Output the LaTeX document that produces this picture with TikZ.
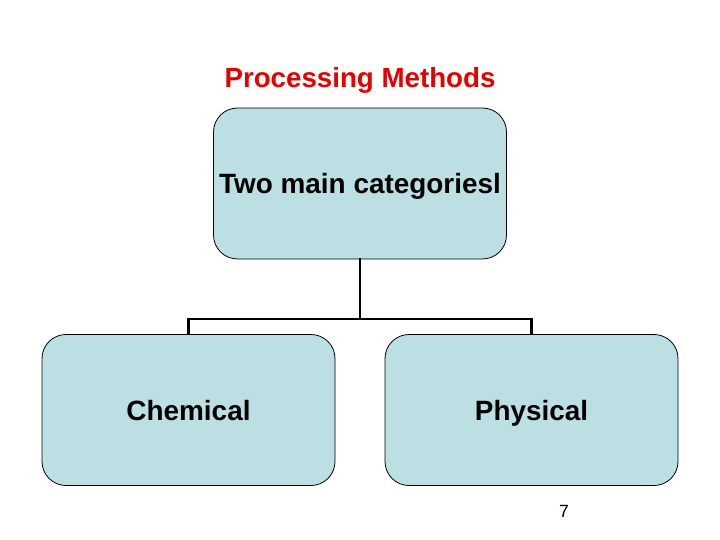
\documentclass[tikz,border=0pt]{standalone}
\usepackage{fontspec}
\setmainfont{Liberation Sans}
\definecolor{boxfill}{RGB}{187,223,227}
\definecolor{titlered}{RGB}{230,0,0}
\begin{document}
\begin{tikzpicture}[x=1pt,y=-1pt,
  catbox/.style={draw=black,line width=0.8pt,fill=boxfill,rounded corners=24pt,
    minimum width=293pt,minimum height=151pt,inner sep=0pt,
    text height=25pt,text depth=4.5pt,
    font=\fontsize{27.9}{32}\selectfont\bfseries},
  link/.style={line width=2.6pt,line cap=rect}]
\useasboundingbox (0,0) rectangle (720,540);
\fill[white] (0,0) rectangle (720,540);
\node[anchor=base,text=titlered,inner sep=0pt,font=\fontsize{27.7}{32}\selectfont\bfseries] (title) at (360,88) {Processing Methods};
\node[catbox] (top) at (360,183.5) {Two main categoriesl};
\node[catbox] (chem) at (188.5,410) {Chemical};
\node[catbox] (phys) at (531.5,410) {Physical};
\node[anchor=base,inner sep=0pt,font=\fontsize{17.7}{21}\selectfont] (page) at (564,517) {7};
\coordinate (bar) at (360,319);
\draw[link] (top.south) -- (bar);
\draw[line width=2.6pt] (chem.north) -- (chem.north |- bar) -- (phys.north |- bar) -- (phys.north);
\end{tikzpicture}
\end{document}
